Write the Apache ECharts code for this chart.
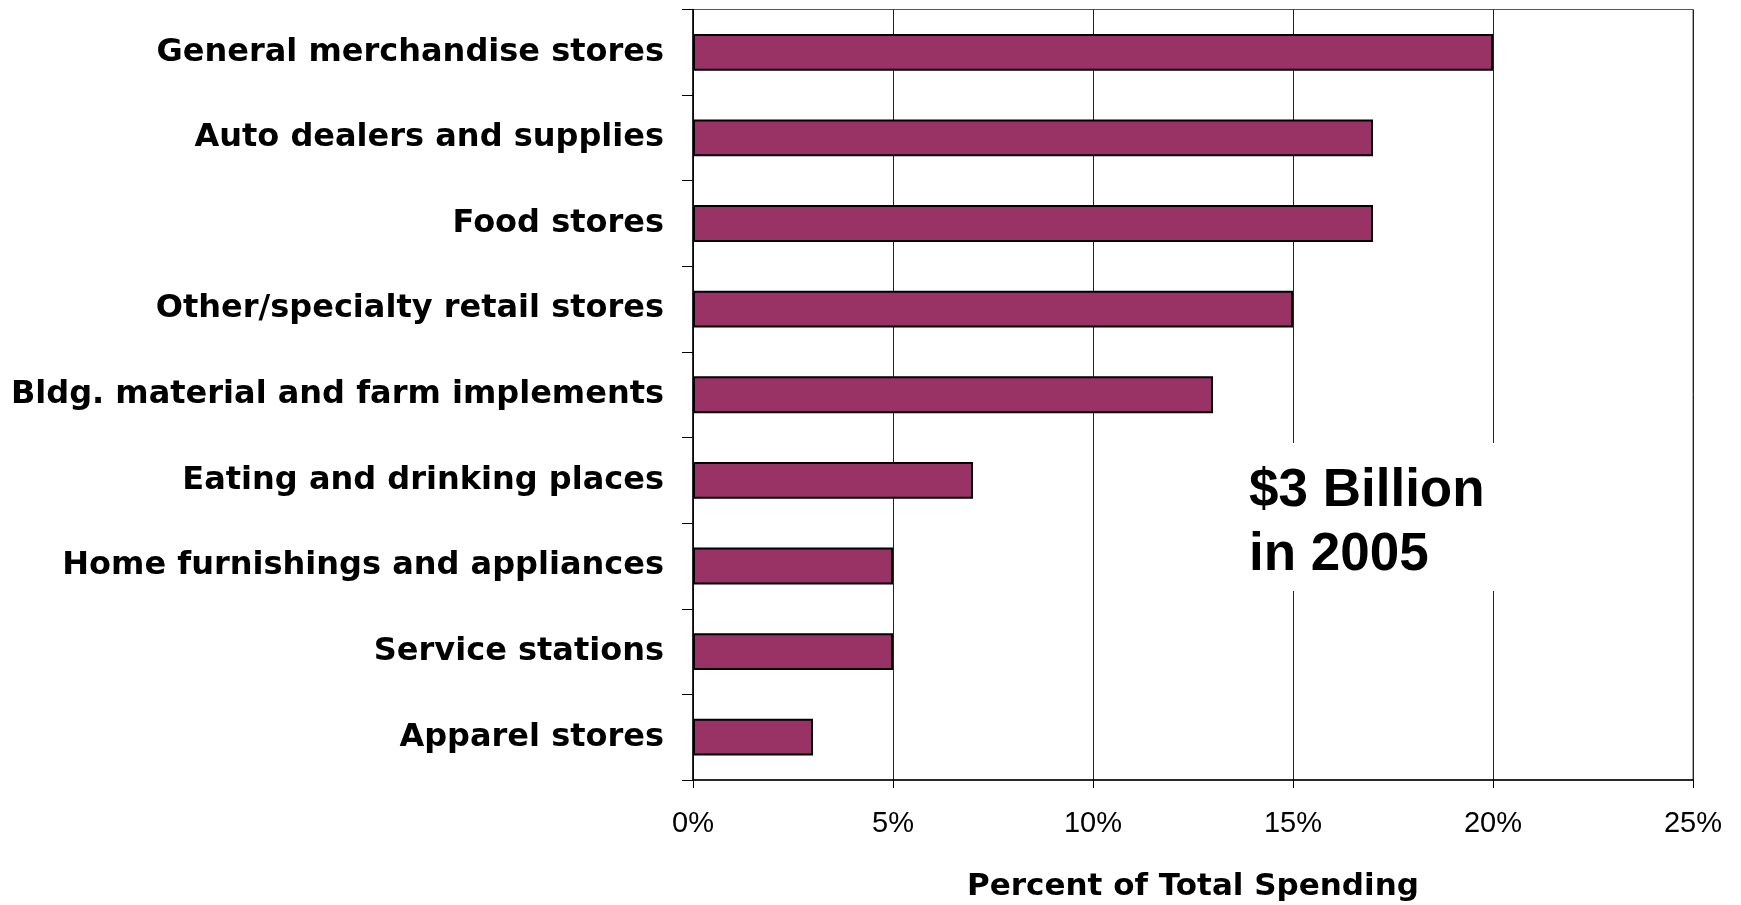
<!DOCTYPE html>
<html>
<head>
<meta charset="utf-8">
<script src="https://cdn.jsdelivr.net/npm/echarts@6/dist/echarts.min.js"></script>
<style>
  html, body { margin: 0; padding: 0; background: #fff; }
  #chart { width: 1741px; height: 905px; }
</style>
</head>
<body>
<div id="chart"></div>
<script>
/* data */
const categories = [
  'General merchandise stores',
  'Auto dealers and supplies',
  'Food stores',
  'Other/specialty retail stores',
  'Bldg. material and farm implements',
  'Eating and drinking places',
  'Home furnishings and appliances',
  'Service stations',
  'Apparel stores'
];
const spending = [20, 17, 17, 15, 13, 7, 5, 5, 3];
const xTicks = [0, 5, 10, 15, 20, 25];
const note = ['$3 Billion', 'in 2005'];

const chart = echarts.init(document.getElementById('chart'));

const option = {
  animation: false,
  backgroundColor: '#fff',
  grid: {
    left: 693,
    right: 48,
    top: 9.5,
    bottom: 125,
    outerBoundsMode: 'none',
    containLabel: false,
    show: true,
    borderColor: '#555',
    borderWidth: 1
  },
  xAxis: {
    type: 'value',
    min: xTicks[0],
    max: xTicks[xTicks.length - 1],
    interval: 5,
    name: 'Percent of Total Spending',
    nameLocation: 'middle',
    nameGap: 91,
    nameTextStyle: {
      fontFamily: 'DejaVu Sans',
      fontWeight: 'bold',
      fontSize: 31,
      color: '#000',
      verticalAlign: 'top'
    },
    axisLine: { show: true, lineStyle: { color: '#000', width: 1.5 } },
    axisTick: { show: true, length: 8, lineStyle: { color: '#000' } },
    axisLabel: {
      formatter: '{value}%',
      fontFamily: 'Liberation Sans',
      fontSize: 29,
      color: '#000',
      margin: 29
    },
    splitLine: { show: true, lineStyle: { color: '#222', width: 1 } }
  },
  yAxis: {
    type: 'category',
    data: categories,
    inverse: true,
    axisLine: { show: true, lineStyle: { color: '#000', width: 1.5 } },
    axisTick: { show: true, length: 11, lineStyle: { color: '#000' } },
    axisLabel: {
      fontFamily: 'DejaVu Sans',
      fontWeight: 'bold',
      fontSize: 32,
      color: '#000',
      margin: 29
    }
  },
  series: [{
    type: 'bar',
    data: spending,
    barWidth: '43%',
    itemStyle: {
      color: '#993366',
      borderColor: '#000',
      borderWidth: 2
    }
  }],
  graphic: [{
    type: 'group',
    left: 1232,
    top: 443,
    z: 100,
    children: [{
      type: 'rect',
      z: 100,
      shape: { x: 0, y: 0, width: 290, height: 148 },
      style: { fill: '#fff' }
    }, {
      type: 'text',
      z: 101,
      x: 17,
      y: 16,
      style: {
        text: note.join('\n'),
        font: 'bold 53px "Liberation Sans"',
        lineHeight: 64,
        fill: '#000'
      }
    }]
  }]
};

chart.setOption(option);
</script>
</body>
</html>
